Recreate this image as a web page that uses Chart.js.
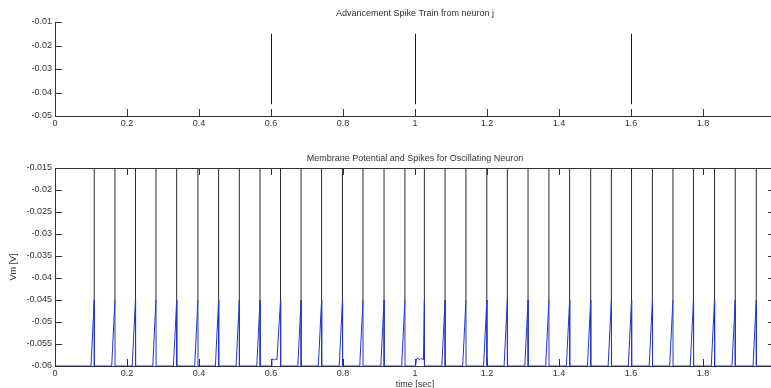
<!DOCTYPE html>
<html>
<head>
<meta charset="utf-8">
<script src="https://cdn.jsdelivr.net/npm/chart.js@4/dist/chart.umd.min.js"></script>
<style>
html,body{margin:0;padding:0;background:#fff;overflow:hidden;width:771px;height:388px;}
#wrap{position:relative;width:771px;height:388px;overflow:hidden;background:#fff;}
canvas{position:absolute;left:0;}
#c1{top:0;}
#c2{top:130px;}
</style>
</head>
<body>
<div id="wrap">
<canvas id="c1" width="800" height="135"></canvas>
<canvas id="c2" width="800" height="266"></canvas>
</div>
<script>
// ---- data ----
const inputSpikeTimes = [0.6, 1.0, 1.6];
const inputSpikeTop = -0.015;
const inputSpikeBottom = -0.045;

const outputSpikeTimes = [
  0.109, 0.1665, 0.2235, 0.2805, 0.338, 0.397, 0.4545, 0.512, 0.5695, 0.6265,
  0.6835, 0.7405, 0.7985, 0.8555, 0.914, 0.972, 1.026, 1.0835, 1.1415, 1.1995,
  1.2565, 1.314, 1.372, 1.4295, 1.488, 1.5455, 1.6015, 1.6595, 1.7165, 1.7735,
  1.832, 1.8895, 1.948
];
const restPotential = -0.06;
const thresholdPotential = -0.045;
const spikePeakPotential = 0;
const riseDuration = 0.009;
const resetDelay = 0.0003;

// small EPSP bumps after the input spikes at 0.6 s and 1.0 s
const epspTimes = [
  [0.6005, 0.6025, 0.606, 0.6095, 0.613, 0.6165],
  [1.0015, 1.004, 1.008, 1.012, 1.016, 1.020, 1.0235]
];
const epspValues = [
  [-0.06, -0.0585, -0.0584, -0.0587, -0.0584, -0.0586],
  [-0.06, -0.0584, -0.0582, -0.0586, -0.0583, -0.0584, -0.0586]
];

const xTickValues = [0, 0.2, 0.4, 0.6, 0.8, 1.0, 1.2, 1.4, 1.6, 1.8, 2.0];
const topYTickValues = [-0.05, -0.04, -0.03, -0.02, -0.01];
const bottomYTickValues = [-0.06, -0.055, -0.05, -0.045, -0.04, -0.035, -0.03, -0.025, -0.02, -0.015];

const topTitle = 'Advancement Spike Train from neuron j';
const bottomTitle = 'Membrane Potential and Spikes for Oscillating Neuron';
const xAxisLabel = 'time [sec]';
const yAxisLabel = 'Vm [V]';

// ---- build library data ----
function spikeLines(times, lo, hi) {
  const pts = [];
  times.forEach(t => { pts.push({x: t, y: lo}, {x: t, y: hi}, {x: t, y: null}); });
  return pts;
}
const vmTrace = [{x: 0, y: restPotential}];
outputSpikeTimes.forEach(ts => {
  const bi = epspTimes.findIndex(b => b[b.length - 1] < ts && b[0] > ts - 0.05);
  if (bi >= 0) {
    epspTimes[bi].forEach((t, i) => vmTrace.push({x: t, y: epspValues[bi][i]}));
  } else {
    vmTrace.push({x: ts - riseDuration, y: restPotential});
  }
  vmTrace.push({x: ts, y: thresholdPotential});
  vmTrace.push({x: ts + resetDelay, y: restPotential});
});
vmTrace.push({x: 2, y: restPotential});

const FONT = '"Liberation Sans", Arial, Helvetica, sans-serif';
const TXT = '#333';
const AX = '#333';
const fmt = v => String(parseFloat(Number(v).toFixed(4)));
const setTicks = arr => s => { s.ticks = arr.map(v => ({value: v})); };

const matlabAxes = {
  id: 'matlabAxes',
  beforeDatasetsDraw(chart, args, opts) {
    const {ctx, chartArea: a, scales: {x, y}} = chart;
    const L = 7;
    ctx.save();
    ctx.strokeStyle = AX;
    ctx.lineWidth = 1;
    ctx.beginPath();
    x.ticks.forEach(t => {
      const px = Math.round(x.getPixelForValue(t.value)) + 0.5;
      ctx.moveTo(px, a.bottom); ctx.lineTo(px, a.bottom - L);
      if (opts.box) { ctx.moveTo(px, a.top); ctx.lineTo(px, a.top + L); }
    });
    y.ticks.forEach(t => {
      const py = Math.round(y.getPixelForValue(t.value)) + 0.5;
      ctx.moveTo(a.left, py); ctx.lineTo(a.left + L, py);
      if (opts.box) { ctx.moveTo(a.right, py); ctx.lineTo(a.right - L, py); }
    });
    if (opts.box) {
      ctx.moveTo(a.left, Math.round(a.top) + 0.5); ctx.lineTo(a.right, Math.round(a.top) + 0.5);
      ctx.moveTo(Math.round(a.right) - 0.5, a.top); ctx.lineTo(Math.round(a.right) - 0.5, a.bottom);
    }
    ctx.stroke();
    ctx.restore();
  },
  beforeDatasetDraw(chart, args, opts) {
    if (opts.crisp) { chart.ctx.save(); chart.ctx.translate(0.5, 0); }
  },
  afterDatasetDraw(chart, args, opts) {
    if (opts.crisp) { chart.ctx.restore(); }
  }
};

function axisCommon(extra) {
  return Object.assign({
    type: 'linear',
    grid: {display: false, drawTicks: false},
    border: {display: true, color: AX, width: 1},
  }, extra);
}

// ---- top chart ----
new Chart(document.getElementById('c1'), {
  type: 'scatter',
  data: {datasets: [{
    data: spikeLines(inputSpikeTimes, inputSpikeBottom, inputSpikeTop),
    showLine: true, spanGaps: false, borderColor: '#1a1a1a', borderWidth: 1, pointRadius: 0
  }]},
  options: {
    responsive: false, animation: false, events: [],
    layout: {padding: {left: 0, right: 25, top: 0, bottom: 0}},
    plugins: {
      legend: {display: false}, tooltip: {enabled: false},
      title: {display: true, text: topTitle, color: TXT, fullSize: false,
        font: {family: FONT, size: 9, weight: 'normal'}, padding: {top: 8.1, bottom: 3.1}},
      matlabAxes: {box: false, crisp: true}
    },
    scales: {
      x: axisCommon({
        min: 0, max: 2,
        afterBuildTicks: setTicks(xTickValues),
        afterFit: s => { s.height = 19; s.paddingLeft = 0; s.paddingRight = 0; },
        ticks: {color: TXT, font: {family: FONT, size: 9}, padding: 2, maxRotation: 0, autoSkip: false, callback: fmt}
      }),
      y: axisCommon({
        min: -0.05, max: -0.01,
        afterBuildTicks: setTicks(topYTickValues),
        afterFit: s => { s.width = 55; s.paddingTop = 0; s.paddingBottom = 0; },
        ticks: {color: TXT, font: {family: FONT, size: 9}, padding: 3, autoSkip: false, callback: fmt}
      })
    }
  },
  plugins: [matlabAxes]
});

// ---- bottom chart ----
new Chart(document.getElementById('c2'), {
  type: 'scatter',
  data: {datasets: [
    {
      data: spikeLines(outputSpikeTimes, thresholdPotential, spikePeakPotential),
      showLine: true, spanGaps: false, borderColor: '#2a2a2a', borderWidth: 1, pointRadius: 0
    },
    {
      data: vmTrace,
      showLine: true, borderColor: '#2536c8', borderWidth: 1, pointRadius: 0, tension: 0
    }
  ]},
  options: {
    responsive: false, animation: false, events: [],
    layout: {padding: {left: 0, right: 25, top: 0, bottom: 0}},
    plugins: {
      legend: {display: false}, tooltip: {enabled: false},
      title: {display: true, text: bottomTitle, color: TXT, fullSize: false,
        font: {family: FONT, size: 9, weight: 'normal'}, padding: {top: 23.1, bottom: 4.1}},
      matlabAxes: {box: true, crisp: false}
    },
    scales: {
      x: axisCommon({
        min: 0, max: 2,
        afterBuildTicks: setTicks(xTickValues),
        afterFit: s => { s.height = 30; s.paddingLeft = 0; s.paddingRight = 0; },
        ticks: {color: TXT, font: {family: FONT, size: 9}, padding: 2, maxRotation: 0, autoSkip: false, callback: fmt},
        title: {display: true, text: xAxisLabel, color: TXT, font: {family: FONT, size: 9}, padding: {top: 0, bottom: 5.6}}
      }),
      y: axisCommon({
        min: -0.06, max: -0.015,
        afterBuildTicks: setTicks(bottomYTickValues),
        afterFit: s => { s.width = 55; s.paddingTop = 0; s.paddingBottom = 0; },
        ticks: {color: TXT, font: {family: FONT, size: 9}, padding: 3, autoSkip: false, callback: fmt},
        title: {display: true, text: yAxisLabel, color: TXT, font: {family: FONT, size: 9}, padding: {top: 8.6, bottom: 0}}
      })
    }
  },
  plugins: [matlabAxes]
});
</script>
</body>
</html>
